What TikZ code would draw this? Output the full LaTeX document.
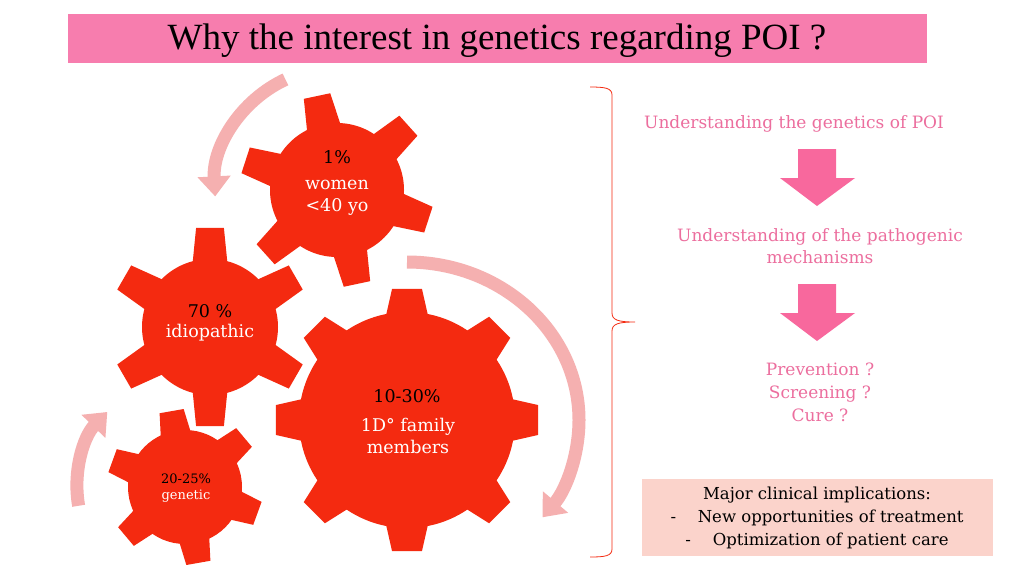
\documentclass[tikz,border=0pt]{standalone}
\usepackage{fontspec}
\setmainfont{DejaVu Serif}
\newfontfamily\titlefont{Liberation Serif}
\usetikzlibrary{arrows.meta,calc}
\definecolor{gearred}{HTML}{F42A10}
\definecolor{arrpink}{HTML}{F5B0B0}
\definecolor{txtpink}{HTML}{EC6E9E}
\definecolor{barpink}{HTML}{F77DAE}
\definecolor{downpink}{HTML}{F8689D}
\definecolor{boxpink}{HTML}{FBD3CB}
\newcommand{\mygear}[8]{% cx cy rbody rtip n start hwbase hwtip
  \fill[gearred] (#1,#2) circle (#3);
  \foreach \k in {1,...,#5}{
    \pgfmathsetmacro{\a}{-(#6+360/#5*(\k-1))}
    \fill[gearred] ($(#1,#2)+(\a-#7:#3-4)$) -- ($(#1,#2)+(\a-#8:#4)$) -- ($(#1,#2)+(\a+#8:#4)$) -- ($(#1,#2)+(\a+#7:#3-4)$) -- cycle;
  }}
\tikzset{
  curvarr/.style={arrpink,line width=13pt,-{Triangle[width=32pt,length=20pt]}},
  pinktxt/.style={text=txtpink,font=\fontsize{17}{22}\selectfont,align=center},
  geartxt/.style={font=\fontsize{17.5}{22}\selectfont,align=center}
}
\begin{document}
\begin{tikzpicture}[x=1pt,y=-1pt]
\useasboundingbox (0,0) rectangle (1024,576);
\fill[white] (0,0) rectangle (1024,576);
% title
\node[fill=barpink,minimum width=859pt,minimum height=49pt,anchor=north west,inner sep=0pt] (title) at (68,14) {};
\node[font=\titlefont\fontsize{37}{38}\selectfont] (titletxt) at (497,41) {Why the interest in genetics regarding POI ?};
% arrows
\draw[curvarr] ($(337,190)+(-115:122)$) arc[start angle=-115,end angle=-183,radius=122];
\draw[curvarr] ($(407,420)+(-90:158)$) arc[start angle=-90,end angle=38,x radius=172,y radius=158];
\draw[curvarr] ($(185,487)+(-190:108)$) arc[start angle=-190,end angle=-136,radius=108];
% gears
\mygear{337}{190}{67}{97}{6}{102}{16}{8}
\mygear{210}{327}{68}{100}{6}{90}{16}{8}
\mygear{407}{420}{108}{132}{8}{90}{12}{6.5}
\mygear{185}{487}{57}{78}{6}{100}{17}{9}
% gear texts
\node[geartxt] (g1a) at (337,157) {1\%};
\node[geartxt,text=white] (g1b) at (337,198) {women\\<40 yo};
\node[geartxt] (g2a) at (210,311) {70 \%};
\node[geartxt,text=white] (g2b) at (210,333) {idiopathic};
\node[geartxt] (g3a) at (407,396) {10-30\%};
\node[geartxt,text=white] (g3b) at (408,436) {1D° family\\members};
\node[font=\fontsize{13}{16}\selectfont] (g4a) at (186,479) {20-25\%};
\node[font=\fontsize{13}{16}\selectfont,text=white] (g4b) at (186,496) {genetic};
% brace
\draw[gearred,line width=0.8pt] (590,87) .. controls (605,87) and (612,88) .. (612,95) -- (612,313) .. controls (612,320) and (618,322) .. (635,322) .. controls (618,322) and (612,324) .. (612,331) -- (612,549) .. controls (612,556) and (605,557) .. (590,557);
% right column
\node[pinktxt] (t1) at (794,124) {Understanding the genetics of POI};
\fill[downpink] (798,149) -- (836,149) -- (836,178) -- (855,178) -- (817,206) -- (780,178) -- (798,178) -- cycle;
\node[pinktxt] (t2) at (820,246) {Understanding of the pathogenic\\mechanisms};
\fill[downpink] (798,284) -- (836,284) -- (836,313) -- (855,313) -- (817,341) -- (780,313) -- (798,313) -- cycle;
\node[pinktxt,font=\fontsize{17}{23}\selectfont] (t3) at (820,392) {Prevention ?\\Screening ?\\Cure ?};
\node[fill=boxpink,minimum width=351pt,minimum height=77pt,anchor=north west,inner sep=0pt] (box) at (642,479) {};
\node[font=\fontsize{16.5}{23}\selectfont,align=center] (boxtxt) at (817,518) {Major clinical implications:\\- \quad New opportunities of treatment\\- \quad Optimization of patient care};
\end{tikzpicture}
\end{document}
